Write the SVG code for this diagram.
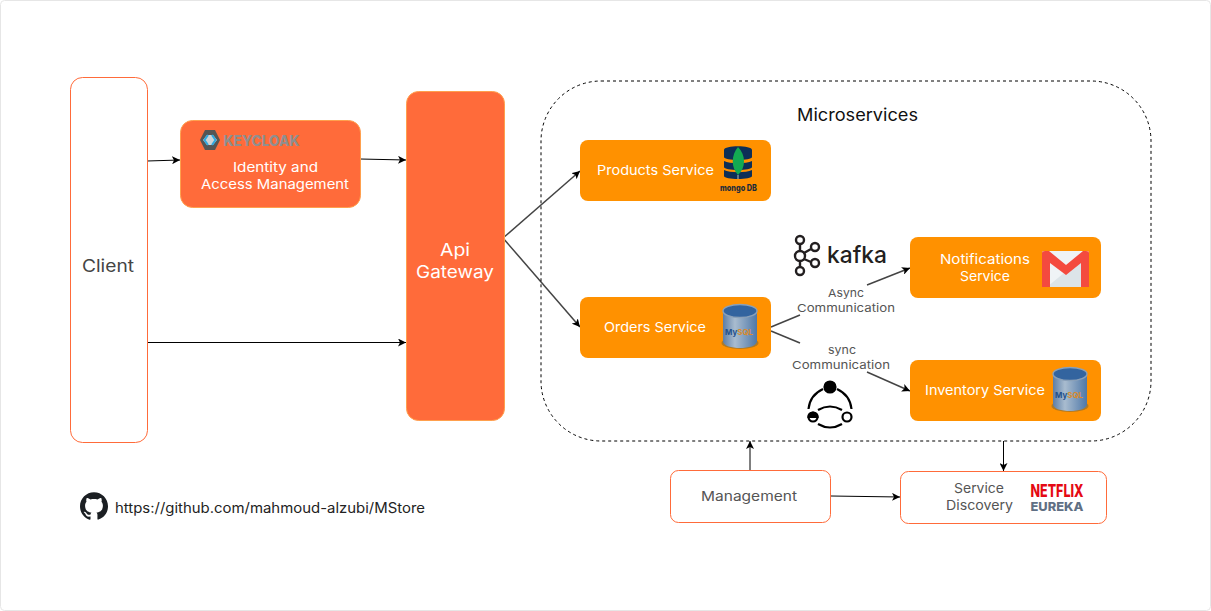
<svg xmlns="http://www.w3.org/2000/svg" width="1211" height="611" viewBox="0 0 1211 611">
<style>
text{font-family:"Inter","Liberation Sans",sans-serif;text-anchor:middle}
.o{fill:#ff6b3a;stroke:#ffa04d;stroke-width:1}
.s{fill:#ff9100}
.w{fill:#fff;stroke:#ff6b3a;stroke-width:1}
.wt{fill:#fff;font-size:13.5px}
.gt{fill:#555;font-size:13.5px}
.lt{fill:#555;font-size:11px}
.c{fill:none;stroke:#000;stroke-width:1;marker-end:url(#a)}
.d{fill:none;stroke:#444;stroke-width:1.5}
.da{fill:none;stroke:#444;stroke-width:1.5;marker-end:url(#a)}
</style>
<defs>
<marker id="a" markerWidth="9" markerHeight="8" refX="8" refY="4" orient="auto" markerUnits="userSpaceOnUse"><path d="M0 0L8 4L0 8L2 4Z" fill="#000"/></marker>
<linearGradient id="cyl" x1="0" x2="1" y1="0" y2="0"><stop offset="0" stop-color="#5d7ea6"/><stop offset=".35" stop-color="#a9bccf"/><stop offset="1" stop-color="#4f78a8"/></linearGradient>
<g id="mysql">
<ellipse cx="0" cy="21" rx="18.500" ry="6" fill="#7d6a3a" opacity=".6"/>
<path d="M-17-11V19C-17 24-8 26 0 26S17 24 17 19V-11Z" fill="url(#cyl)"/>
<ellipse cx="0" cy="-11" rx="17" ry="6.500" fill="#33649f" stroke="#8aa0b8" stroke-width="1.400"/>
<text x="-1" y="13" style="font-size:8px;font-weight:700;fill:#23508c" textLength="28" lengthAdjust="spacingAndGlyphs">My<tspan fill="#d98a2b">SQL</tspan></text>
</g>
</defs>
<rect x="0.5" y="0.5" width="1210" height="610" rx="4" fill="#fff" stroke="#e6e6e6"/>
<g id="connectors">
<path class="c" d="M147 161L180 160"/>
<path class="c" d="M360 159L406 160"/>
<path class="c" d="M148 342.500H406"/>
<path class="da" d="M503 238L580 171"/>
<path class="da" d="M503 238L580 327"/>
<path class="d" d="M771 327L800 315"/>
<path class="da" d="M867 285L910 268"/>
<path class="d" d="M771 331L800 343"/>
<path class="da" d="M867 372L910 391"/>
<path class="c" d="M750 470V441"/>
<path class="c" d="M831 496L900 497"/>
<path class="c" d="M1003.500 441V471"/>
</g>
<g id="microservices">
<rect x="541" y="81" width="610" height="360" rx="60" fill="none" stroke="#000" stroke-dasharray="3 3"/>
<text x="857.500" y="121" textLength="121" lengthAdjust="spacingAndGlyphs" style="font-size:17px;fill:#111">Microservices</text>
</g>
<g id="client">
<rect class="w" x="70.500" y="77.500" width="77" height="365" rx="12"/>
<text x="108" y="272" textLength="52" lengthAdjust="spacingAndGlyphs" style="font-size:17px;fill:#444">Client</text>
</g>
<g id="identity">
<rect class="o" x="180.500" y="120.500" width="180" height="87" rx="12"/>
<path d="M205 130H215L220 140L215 150H205L200 140Z" fill="#555"/>
<path d="M203 140L207 135H213L217 140L213 145H207Z" fill="#cfd3d6"/>
<path d="M208 135L204.500 140L208 145M212 135L215.500 140L212 145" fill="none" stroke="#2fa8e0" stroke-width="2"/>
<text x="261.500" y="145.500" style="font-size:14px;font-weight:800;fill:#8f8f8f" textLength="76" lengthAdjust="spacingAndGlyphs">KEYCLOAK</text>
<text class="wt" x="275.500" y="172" textLength="85" lengthAdjust="spacingAndGlyphs">Identity and</text>
<text class="wt" x="275" y="189" textLength="148" lengthAdjust="spacingAndGlyphs">Access Management</text>
</g>
<g id="gateway">
<rect class="o" x="406.500" y="91.500" width="98" height="329" rx="12"/>
<text x="455" y="256" textLength="30" lengthAdjust="spacingAndGlyphs" style="font-size:17px;fill:#fff">Api</text>
<text x="455" y="278" textLength="78" lengthAdjust="spacingAndGlyphs" style="font-size:17px;fill:#fff">Gateway</text>
</g>
<g id="products">
<rect class="s" x="580" y="140" width="191" height="61" rx="8"/>
<text class="wt" x="655.500" y="175" textLength="117" lengthAdjust="spacingAndGlyphs">Products Service</text>
<path d="M724 150C724 145 752 145 752 150V157C752 161 724 161 724 157Z M724 161C730 164 746 164 752 161V167C752 171 724 171 724 167Z M724 170C730 173 746 173 752 170V176C752 180 724 180 724 176Z" fill="#0d2f57"/>
<path d="M738 147C746 155 746 168 738 175C731 168 731 155 738 147Z" fill="#13aa52"/>
<path d="M738 175V179" stroke="#b8c4c2"/>
<text x="738.500" y="191" textLength="37" lengthAdjust="spacingAndGlyphs" style="font-size:9px;font-weight:800;fill:#1d2b3a">mongo DB</text>
</g>
<g id="orders">
<rect class="s" x="580" y="297" width="191" height="61" rx="8"/>
<text class="wt" x="655" y="332" textLength="102" lengthAdjust="spacingAndGlyphs">Orders Service</text>
<use href="#mysql" x="740" y="322"/>
</g>
<g id="kafka">
<g fill="none" stroke="#231f20" stroke-width="2.400">
<circle cx="800" cy="240" r="4"/><circle cx="800" cy="256" r="5"/><circle cx="800" cy="271" r="4"/><circle cx="815" cy="247" r="4"/><circle cx="815" cy="263" r="4"/>
<path d="M800 244V251M800 261V267M804 253L811 249M804 259L811 262"/>
</g>
<text x="857" y="263" textLength="60" lengthAdjust="spacingAndGlyphs" style="font-size:23px;font-weight:500;fill:#231f20">kafka</text>
</g>
<g id="notifications">
<rect class="s" x="910" y="237" width="191" height="61" rx="8"/>
<text class="wt" x="985" y="264" textLength="90" lengthAdjust="spacingAndGlyphs">Notifications</text>
<text class="wt" x="985" y="281" textLength="50" lengthAdjust="spacingAndGlyphs">Service</text>
<rect x="1042" y="251" width="47" height="36" rx="2" fill="#eff3f6"/>
<path d="M1047 287L1081 259V287Z" fill="#dce4e9"/>
<path d="M1042 253Q1042 251 1045 251H1049L1066 265L1083 251H1086Q1089 251 1089 253V287H1081V263L1066 275L1050 263V287H1042Z" fill="#f44a3f"/>
</g>
<g id="inventory">
<rect class="s" x="910" y="360" width="191" height="61" rx="8"/>
<text class="wt" x="985" y="395" textLength="120" lengthAdjust="spacingAndGlyphs">Inventory Service</text>
<use href="#mysql" x="1070" y="385"/>
</g>
<g id="labels">
<text class="lt" x="846" y="297" textLength="36" lengthAdjust="spacingAndGlyphs">Async</text>
<text class="lt" x="846" y="312" textLength="98" lengthAdjust="spacingAndGlyphs">Communication</text>
<text class="lt" x="842" y="354" textLength="28" lengthAdjust="spacingAndGlyphs">sync</text>
<text class="lt" x="841" y="369" textLength="98" lengthAdjust="spacingAndGlyphs">Communication</text>
</g>
<g id="sync-icon" fill="none" stroke="#000" stroke-width="2.200">
<circle cx="830" cy="387" r="5.500" fill="#000"/>
<circle cx="813" cy="417" r="4.500" fill="#fff"/><path d="M808.500 417a4.500 4.500 0 0 1 9 0Z" fill="#000"/>
<circle cx="847" cy="417" r="4.500"/>
<path d="M823 389Q810 395 808.500 409M837 389Q850 395 851.500 409M818 410Q830 403 842 410M818 424Q830 431 842 424"/>
</g>
<g id="management">
<rect class="w" x="670.500" y="470.500" width="160" height="52" rx="8"/>
<text class="gt" x="749" y="501" textLength="96" lengthAdjust="spacingAndGlyphs">Management</text>
</g>
<g id="discovery">
<rect class="w" x="900.500" y="471.500" width="206" height="52" rx="8"/>
<text class="gt" x="979" y="493" textLength="50" lengthAdjust="spacingAndGlyphs">Service</text>
<text class="gt" x="979.500" y="510" textLength="67" lengthAdjust="spacingAndGlyphs">Discovery</text>
<text x="1057" y="497" style="font-size:17px;font-weight:800;fill:#e50914" textLength="53" lengthAdjust="spacingAndGlyphs">NETFLIX</text>
<text x="1057" y="511" style="font-size:12px;font-weight:800;fill:#5f6f84" textLength="53" lengthAdjust="spacingAndGlyphs">EUREKA</text>
</g>
<g id="github">
<path transform="translate(80 492) scale(1.167)" fill="#1b1f23" d="M12 .297c-6.63 0-12 5.373-12 12 0 5.303 3.438 9.8 8.205 11.385.6.113.82-.258.82-.577 0-.285-.01-1.04-.015-2.04-3.338.724-4.042-1.61-4.042-1.61C4.422 18.07 3.633 17.7 3.633 17.7c-1.087-.744.084-.729.084-.729 1.205.084 1.838 1.236 1.838 1.236 1.07 1.835 2.809 1.305 3.495.998.108-.776.417-1.305.76-1.605-2.665-.3-5.466-1.332-5.466-5.93 0-1.31.465-2.38 1.235-3.22-.135-.303-.54-1.523.105-3.176 0 0 1.005-.322 3.3 1.23.96-.267 1.98-.399 3-.405 1.02.006 2.04.138 3 .405 2.28-1.552 3.285-1.23 3.285-1.23.645 1.653.24 2.873.12 3.176.765.84 1.23 1.91 1.23 3.22 0 4.61-2.805 5.625-5.475 5.92.42.36.81 1.096.81 2.22 0 1.606-.015 2.896-.015 3.286 0 .315.21.69.825.57C20.565 22.092 24 17.592 24 12.297c0-6.627-5.373-12-12-12"/>
<text x="270" y="513" textLength="310" lengthAdjust="spacingAndGlyphs" style="font-size:14px;fill:#222">https://github.com/mahmoud-alzubi/MStore</text>
</g>
</svg>
